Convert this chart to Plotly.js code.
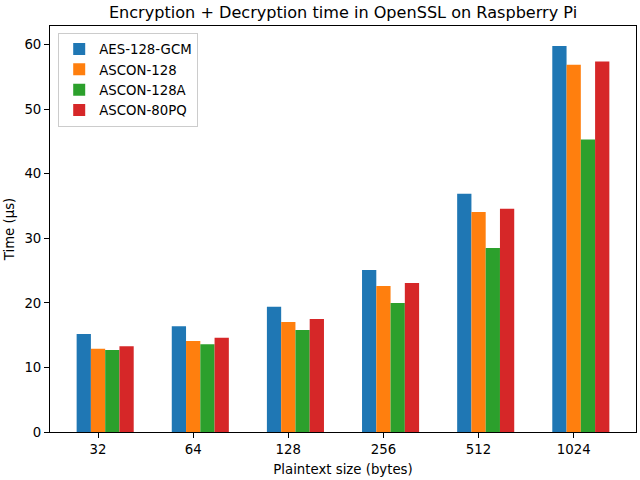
<!DOCTYPE html>
<html>
<head>
<meta charset="utf-8">
<script src="https://cdn.plot.ly/plotly-3.0.1.min.js"></script>
<style>html,body{margin:0;padding:0;background:#fff}#chart{width:640px;height:480px}</style>
</head>
<body>
<div id="chart"></div>
<script>
const sizes = ["32", "64", "128", "256", "512", "1024"];
const aes128gcm = [15.2, 16.4, 19.4, 25.1, 36.9, 59.8];
const ascon128 = [12.9, 14.1, 17.05, 22.6, 34.1, 56.9];
const ascon128a = [12.7, 13.6, 15.8, 20.0, 28.5, 45.3];
const ascon80pq = [13.3, 14.6, 17.5, 23.1, 34.6, 57.4];
const seriesNames = ["AES-128-GCM", "ASCON-128", "ASCON-128A", "ASCON-80PQ"];
const colors = ["#1f77b4", "#ff7f0e", "#2ca02c", "#d62728"];

const w = 0.15;
const xs = sizes.map((_, i) => i);
const all = [aes128gcm, ascon128, ascon128a, ascon80pq];
const traces = all.map((vals, k) => ({
  type: "bar",
  name: seriesNames[k],
  x: xs,
  y: vals,
  width: w,
  offset: (k - 1.5) * w,
  marker: {color: colors[k], line: {width: 0}},
  hoverinfo: "skip"
}));

const font = {family: "DejaVu Sans, sans-serif", size: 13.3, color: "#000"};
const layout = {
  width: 640, height: 480,
  margin: {l: 50, r: 4, t: 26, b: 48},
  paper_bgcolor: "#fff", plot_bgcolor: "#fff",
  barmode: "overlay",
  font: font,
  title: {text: "Encryption + Decryption time in OpenSSL on Raspberry Pi", font: {family: "DejaVu Sans, sans-serif", size: 16.1, color: "#000"}, x: 0.536, xanchor: "center", y: 0.975, yanchor: "middle"},
  xaxis: {
    range: [-0.505, 5.655],
    tickmode: "array", tickvals: xs, ticktext: sizes,
    ticks: "outside", ticklen: 5, tickwidth: 1, tickcolor: "#000",
    showline: true, linecolor: "#000", linewidth: 1, mirror: true,
    showgrid: false, zeroline: false,
    title: {text: "Plaintext size (bytes)", font: font, standoff: 8}
  },
  yaxis: {
    range: [0, 62.9],
    tickvals: [0, 10, 20, 30, 40, 50, 60],
    ticks: "outside", ticklen: 5, tickwidth: 1, tickcolor: "#000",
    showline: true, linecolor: "#000", linewidth: 1, mirror: true,
    showgrid: false, zeroline: false,
    title: {text: "Time (µs)", font: font, standoff: 6}
  },
  legend: {
    x: 0.014, y: 0.983, xanchor: "left", yanchor: "top",
    bgcolor: "rgba(255,255,255,0.8)", bordercolor: "#cccccc", borderwidth: 1,
    font: font, itemwidth: 30, tracegroupgap: 0
  },
  showlegend: true
};
Plotly.newPlot("chart", traces, layout, {staticPlot: true});
</script>
</body>
</html>
